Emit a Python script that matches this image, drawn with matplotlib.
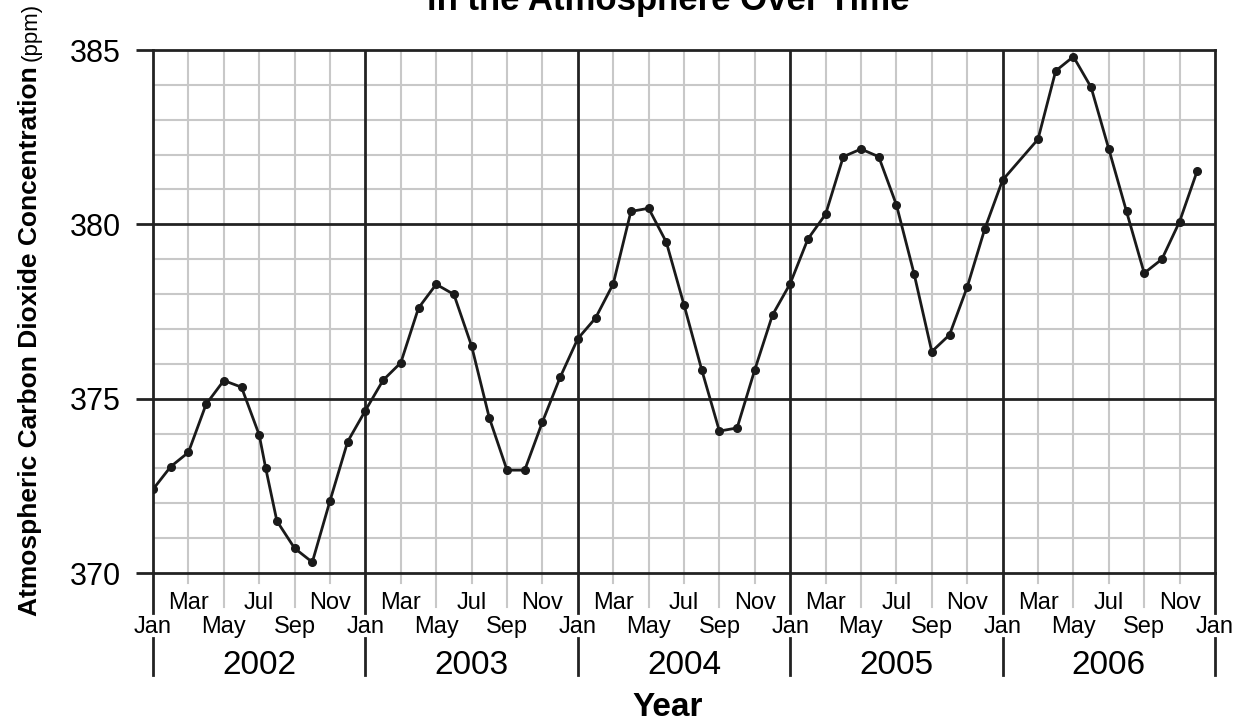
import matplotlib
matplotlib.use('Agg')
from matplotlib import pyplot as plt
from matplotlib import transforms

# months since Jan 2002 and CO2 in ppm
months = [0, 1, 2, 3, 4, 5, 6, 6.37, 7, 8, 9, 10, 11,
          12, 13, 14, 15, 16, 17, 18, 19, 20, 21, 22, 23,
          24, 25, 26, 27, 28, 29, 30, 31, 32, 33, 34, 35,
          36, 37, 38, 39, 40, 41, 42, 43, 44, 45, 46, 47,
          48, 50, 51, 52, 53, 54, 55, 56, 57, 58, 59]
co2 = [372.40, 373.05, 373.46, 374.84, 375.52, 375.33, 373.96, 373.00, 371.49, 370.71, 370.31, 372.07, 373.77,
       374.66, 375.53, 376.03, 377.60, 378.28, 377.99, 376.51, 374.45, 372.95, 372.95, 374.33, 375.61,
       376.72, 377.31, 378.29, 380.37, 380.46, 379.49, 377.69, 375.83, 374.07, 374.16, 375.83, 377.40,
       378.30, 379.58, 380.29, 381.94, 382.16, 381.94, 380.56, 378.58, 376.35, 376.83, 378.20, 379.88,
       381.27, 382.44, 384.40, 384.81, 383.93, 382.16, 380.37, 378.60, 379.00, 380.08, 381.54]

years = ['2002', '2003', '2004', '2005', '2006']
upper_months = ['Mar', 'Jul', 'Nov']
lower_months = ['Jan', 'May', 'Sep']
y_ticks = [370, 375, 380, 385]

plt.rcParams['font.family'] = ['Liberation Sans', 'DejaVu Sans']

W, H = 1243, 723
fig = plt.figure(figsize=(W / 100, H / 100), dpi=100)
ax_l, ax_r, ax_t, ax_b = 153, 1215, 50, 573
ax = fig.add_axes([ax_l / W, 1 - ax_b / H, (ax_r - ax_l) / W, (ax_b - ax_t) / H])

n_months = 12 * len(years)
ax.set_xlim(0, n_months)
ax.set_ylim(370, 385)

# grid: light every 2 months / 1 ppm, dark every year / 5 ppm
for m in range(2, n_months, 2):
    if m % 12:
        ax.axvline(m, color='#c8c8c8', lw=1.5, zorder=1)
for v in range(371, 385):
    if v % 5:
        ax.axhline(v, color='#c8c8c8', lw=1.5, zorder=1)
for m in range(12, n_months, 12):
    ax.axvline(m, color='#222222', lw=2.0, zorder=2)
for v in y_ticks[1:-1]:
    ax.axhline(v, color='#222222', lw=2.0, zorder=2)
for s in ax.spines.values():
    s.set_linewidth(2.0)
    s.set_color('#222222')
    s.set_zorder(3)

ax.plot(months, co2, color='#1a1a1a', lw=2.0, marker='o', ms=5.5, zorder=4)

ax.set_yticks(y_ticks)
ax.set_yticklabels([str(v) for v in y_ticks], fontsize=22)
ax.tick_params(axis='y', length=12, width=2.0, color='#222222', pad=11)
ax.set_xticks([])

# x axis: ticks, two rows of months, years
ax_h = ax_b - ax_t
def fy(px):
    return (ax_b - px) / ax_h

trans = transforms.blended_transform_factory(ax.transData, ax.transAxes)
for k, yr in enumerate(years):
    x0 = 12 * k
    for j, m in enumerate(range(x0 + 2, x0 + 12, 2)):
        if j % 2 == 0:
            ax.plot([m, m], [0, fy(583)], color='#c8c8c8', lw=1.5, transform=trans, clip_on=False)
            ax.text(m, fy(603), upper_months[j // 2], transform=trans, ha='center', va='center', fontsize=17)
        else:
            ax.plot([m, m], [0, fy(607)], color='#c8c8c8', lw=1.5, transform=trans, clip_on=False)
            ax.text(m, fy(627), lower_months[(j + 1) // 2], transform=trans, ha='center', va='center', fontsize=17)
    ax.text(x0 + 6, fy(666), yr, transform=trans, ha='center', va='center', fontsize=24)
for x0 in range(0, n_months + 1, 12):
    ax.plot([x0, x0], [0, fy(613)], color='#222222', lw=2.0, transform=trans, clip_on=False)
    ax.plot([x0, x0], [fy(638), fy(675)], color='#222222', lw=2.0, transform=trans, clip_on=False)
    ax.text(x0, fy(627), 'Jan', transform=trans, ha='center', va='center', fontsize=17)

fig.text(668 / W, 1 - 707 / H, 'Year', ha='center', va='center', fontsize=24, fontweight='bold')
fig.text(668 / W, 1 - 10 / H, 'in the Atmosphere Over Time', ha='center', va='baseline',
         fontsize=25, fontweight='bold')

ylab = fig.text(30 / W, 1 - 341 / H, 'Atmospheric Carbon Dioxide Concentration', rotation=90,
                ha='center', va='center', fontsize=19, fontweight='bold')
fig.canvas.draw()
bb = ylab.get_window_extent()
fig.text(31 / W, (bb.y1 + 5) / H, '(ppm)', rotation=90, ha='center', va='bottom', fontsize=16)

fig.savefig('out.png', dpi=100)
